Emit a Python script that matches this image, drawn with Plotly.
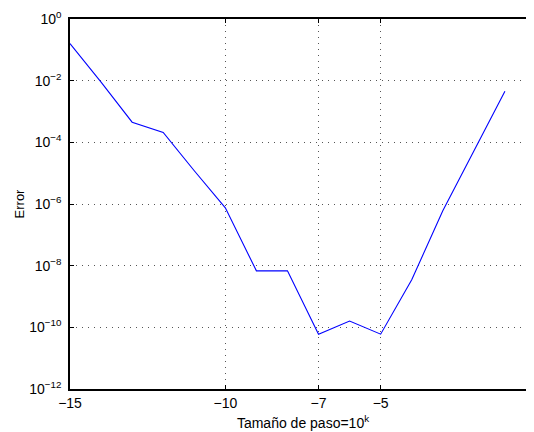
import plotly.graph_objects as go

k_vals = [-15, -14, -13, -12, -11, -10, -9, -8, -7, -6, -5, -4, -3, -2, -1]
error_vals = [0.16, 9e-3, 4.5e-4, 2.1e-4, 1.2e-5, 7.5e-7, 6.8e-9, 6.8e-9,
              6e-11, 1.6e-10, 6e-11, 3.5e-9, 6e-7, 5.5e-5, 4.5e-3]

x_tick_vals = [-15, -10, -7, -5, 0]
x_tick_text = ["\u221215", "\u221210", "\u22127", "\u22125", "0"]
y_tick_vals = [1e0, 1e-2, 1e-4, 1e-6, 1e-8, 1e-10, 1e-12]
y_tick_text = ["10<sup>0</sup>", "10<sup>\u22122</sup>", "10<sup>\u22124</sup>",
               "10<sup>\u22126</sup>", "10<sup>\u22128</sup>",
               "10<sup>\u221210</sup>", "10<sup>\u221212</sup>"]

fig = go.Figure()
fig.add_trace(go.Scatter(x=k_vals, y=error_vals, mode="lines",
                         line=dict(color="#0000ff", width=1.1),
                         showlegend=False))

fam = "Liberation Sans, Arial, Helvetica, sans-serif"
tickfont = dict(family=fam, size=14, color="black")

fig.update_layout(
    width=600, height=424,
    margin=dict(l=62, r=72, t=11, b=43),
    paper_bgcolor="white", plot_bgcolor="white",
    font=dict(family=fam, size=14, color="black"),
    xaxis=dict(
        range=[-15, 0], tickmode="array", tickvals=x_tick_vals, ticktext=x_tick_text,
        showgrid=True, gridcolor="#555", griddash="1px,5px", gridwidth=1,
        showline=True, linecolor="black", linewidth=1.5, mirror="ticks",
        ticks="inside", ticklen=4, tickcolor="black", zeroline=False,
        tickfont=tickfont, automargin=False,
        title=dict(text="Tamaño de paso=10<sup>k</sup>", standoff=9,
                   font=dict(family=fam, size=14, color="black")),
    ),
    yaxis=dict(
        type="log", range=[-12, 0], tickmode="array", tickvals=y_tick_vals,
        ticktext=y_tick_text,
        showgrid=True, gridcolor="#555", griddash="1px,5px", gridwidth=1,
        showline=True, linecolor="black", linewidth=1.5, mirror="ticks",
        ticks="inside", ticklen=4, tickcolor="black", zeroline=False,
        tickfont=tickfont, automargin=False, ticklabelstandoff=4,
        title=dict(text="Error", standoff=2,
                   font=dict(family=fam, size=13, color="black")),
    ),
)

fig.write_html("out.html", post_script="document.body.style.overflow='hidden';")
